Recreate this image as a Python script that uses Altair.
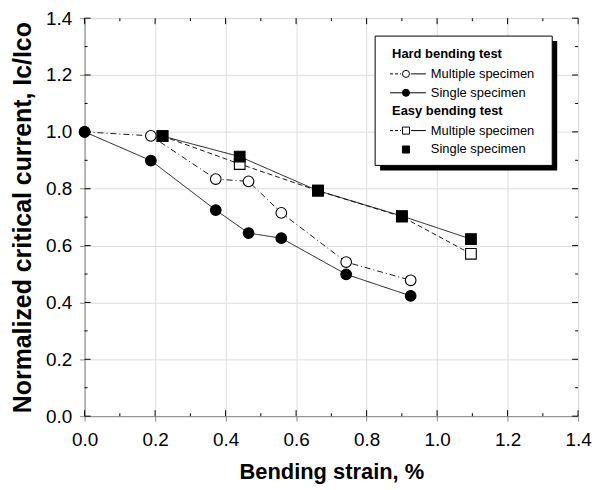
import altair as alt
import pandas as pd

# ---- data ----
hard_multi_x = [0.0, 0.188, 0.372, 0.465, 0.558, 0.742, 0.925]
hard_multi_y = [1.0, 0.986, 0.834, 0.826, 0.715, 0.542, 0.478]
hard_single_x = [0.0, 0.188, 0.372, 0.465, 0.558, 0.742, 0.925]
hard_single_y = [1.0, 0.899, 0.725, 0.644, 0.626, 0.499, 0.423]
easy_multi_x = [0.221, 0.44, 0.662, 0.90, 1.096]
easy_multi_y = [0.985, 0.887, 0.793, 0.702, 0.571]
easy_single_x = [0.221, 0.44, 0.662, 0.90, 1.096]
easy_single_y = [0.985, 0.913, 0.793, 0.704, 0.623]

series_names = ["Easy multiple", "Easy single", "Hard multiple", "Hard single"]
axis_values = [0.0, 0.2, 0.4, 0.6, 0.8, 1.0, 1.2, 1.4]
minor_values = [0.1, 0.3, 0.5, 0.7, 0.9, 1.1, 1.3]

W, H = 496, 400
FONT = "Liberation Sans"

rows = []
for name, xs, ys in [
    ("Easy multiple", easy_multi_x, easy_multi_y),
    ("Easy single", easy_single_x, easy_single_y),
    ("Hard multiple", hard_multi_x, hard_multi_y),
    ("Hard single", hard_single_x, hard_single_y),
]:
    for i, (x, y) in enumerate(zip(xs, ys)):
        rows.append({"series": name, "strain": x, "ic": y, "i": i})
df = pd.DataFrame(rows)

xscale = alt.Scale(domain=[0, 1.4], nice=False, zero=False)
yscale = alt.Scale(domain=[0, 1.4], nice=False, zero=False)

x_enc = alt.X(
    "strain:Q", scale=xscale,
    axis=alt.Axis(values=axis_values, format=".1f", title="Bending strain, %",
                  labelFontSize=19, labelPadding=10, titleFontSize=22,
                  titlePadding=12, labelFlush=False, labelOverlap=False),
)
y_enc = alt.Y(
    "ic:Q", scale=yscale,
    axis=alt.Axis(values=axis_values, format=".1f",
                  title="Normalized critical current, Ic/Ico",
                  labelFontSize=19, labelPadding=8, titleFontSize=25,
                  titlePadding=10, labelFlush=False, labelOverlap=False),
)

dash_scale = alt.Scale(domain=series_names,
                       range=[[5, 3], [1, 0], [6, 3, 1, 3], [1, 0]])
lines = alt.Chart(df).mark_line(color="black", strokeWidth=0.9).encode(
    x=x_enc, y=y_enc,
    detail="series:N",
    order="i:Q",
    strokeDash=alt.StrokeDash("series:N", scale=dash_scale, legend=None),
)

points = alt.Chart(df).mark_point(stroke="black", strokeWidth=1.1, opacity=1,
                                  size=115, filled=False).encode(
    x="strain:Q", y="ic:Q",
    shape=alt.Shape("series:N", scale=alt.Scale(domain=series_names,
                    range=["square", "square", "circle", "circle"]), legend=None),
    fill=alt.Fill("series:N", scale=alt.Scale(domain=series_names,
                  range=["white", "black", "white", "black"]), legend=None),
)

# ---- inward ticks on all four sides ----
def xticks(vals, length, top):
    d = pd.DataFrame({"v": vals})
    if top:
        return alt.Chart(d).mark_rule(color="black", strokeWidth=1).encode(
            x=alt.X("v:Q", scale=xscale), y=alt.value(0), y2=alt.value(length))
    return alt.Chart(d).mark_rule(color="black", strokeWidth=1).encode(
        x=alt.X("v:Q", scale=xscale), y=alt.value(H), y2=alt.value(H - length))

def yticks(vals, length, right):
    d = pd.DataFrame({"v": vals})
    if right:
        return alt.Chart(d).mark_rule(color="black", strokeWidth=1).encode(
            y=alt.Y("v:Q", scale=yscale), x=alt.value(W), x2=alt.value(W - length))
    return alt.Chart(d).mark_rule(color="black", strokeWidth=1).encode(
        y=alt.Y("v:Q", scale=yscale), x=alt.value(0), x2=alt.value(length))

ticks = [
    xticks(axis_values, 6, False), xticks(minor_values, 3, False),
    xticks(axis_values, 6, True), xticks(minor_values, 3, True),
    yticks(axis_values, 6, False), yticks(minor_values, 3, False),
    yticks(axis_values, 6, True), yticks(minor_values, 3, True),
]

# ---- legend (drawn inside the plot) ----
one = alt.Data(values=[{}])
LX0, LX1, LY0, LY1 = 292, 470, 18, 148
shadow = alt.Chart(one).mark_rect(fill="black").encode(
    x=alt.value(LX0 + 5), x2=alt.value(LX1 + 5),
    y=alt.value(LY0 + 5), y2=alt.value(LY1 + 5))
box = alt.Chart(one).mark_rect(fill="white", stroke="black", strokeWidth=1).encode(
    x=alt.value(LX0), x2=alt.value(LX1), y=alt.value(LY0), y2=alt.value(LY1))

legend_headers = ["Hard bending test", "Easy bending test"]
legend_labels = ["Multiple specimen", "Single specimen",
                 "Multiple specimen", "Single specimen"]
header_y = [36, 93]
row_y = [56, 75, 113, 132]

def ltext(t, x, y, bold):
    return alt.Chart(one).mark_text(
        text=t, align="left", baseline="middle", font=FONT, fontSize=13,
        fontWeight="bold" if bold else "normal", color="black").encode(
        x=alt.value(x), y=alt.value(y))

def lrule(x0, x1, y, dash=None):
    kw = {"color": "black", "strokeWidth": 1}
    if dash:
        kw["strokeDash"] = dash
    return alt.Chart(one).mark_rule(**kw).encode(
        x=alt.value(x0), x2=alt.value(x1), y=alt.value(y))

def lpoint(x, y, shape, fill):
    return alt.Chart(one).mark_point(shape=shape, fill=fill, stroke="black",
                                     strokeWidth=1, size=50, opacity=1,
                                     filled=False).encode(
        x=alt.value(x), y=alt.value(y))

legend_layers = [shadow, box]
legend_layers += [ltext(t, 309, y, True) for t, y in zip(legend_headers, header_y)]
legend_layers += [ltext(t, 348, y, False) for t, y in zip(legend_labels, row_y)]
legend_layers += [
    lrule(307, 318, row_y[0], [3, 2]), lrule(328, 343, row_y[0]),
    lpoint(323, row_y[0], "circle", "white"),
    lrule(307, 343, row_y[1]), lpoint(323, row_y[1], "circle", "black"),
    lrule(307, 318, row_y[2], [3, 2]), lrule(328, 343, row_y[2]),
    lpoint(323, row_y[2], "square", "white"),
    lpoint(323, row_y[3], "square", "black"),
]

chart = alt.layer(lines, points, *ticks, *legend_layers).properties(
    width=W, height=H,
    autosize=alt.AutoSizeParams(type="none"),
    padding={"left": 77, "top": 9, "right": 20, "bottom": 72},
).configure_view(
    stroke="black", strokeWidth=1.5
).configure_axis(
    grid=False, ticks=False, domain=False, labelFont=FONT, titleFont=FONT,
    labelColor="black", titleColor="black", titleFontWeight="bold",
    labelFontWeight="normal",
).configure(background="white")

chart.save("out.html", embed_options={"renderer": "svg", "actions": False})
